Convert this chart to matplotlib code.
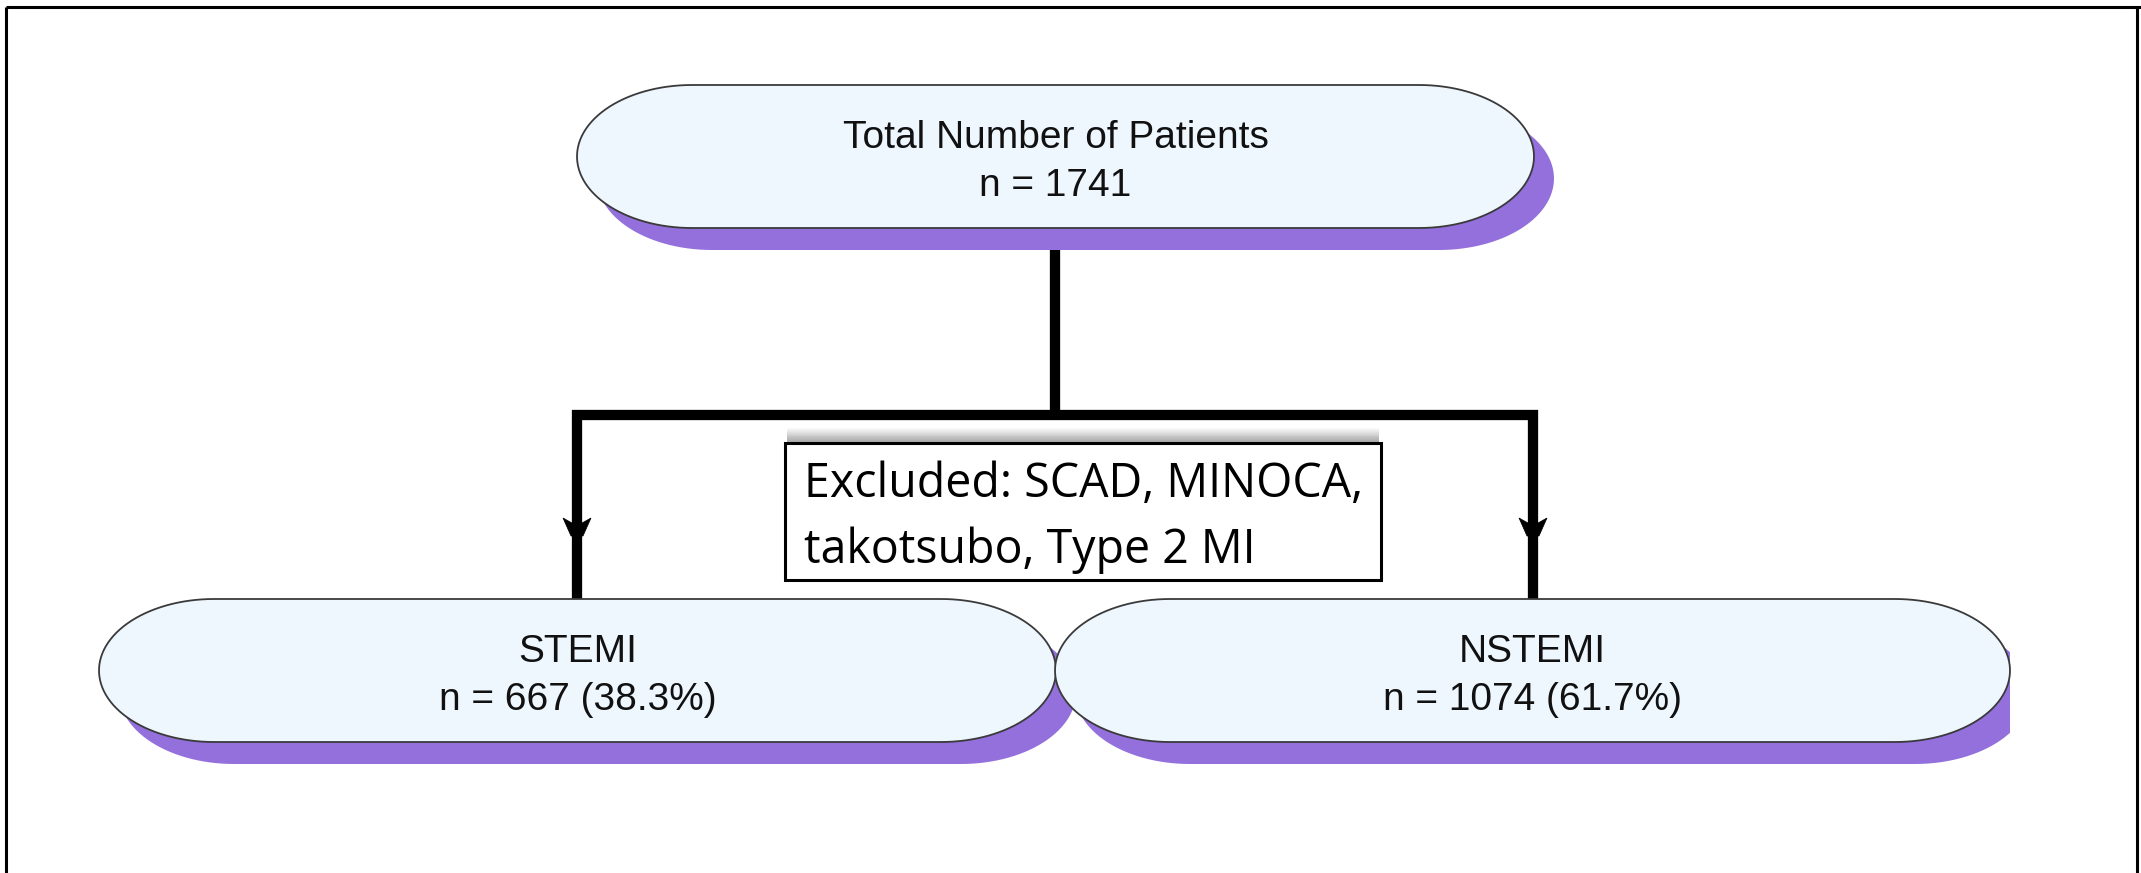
import numpy as np
import matplotlib
matplotlib.use("Agg")
import matplotlib.pyplot as plt
from matplotlib.patches import Polygon, Rectangle

# ---------------- data ----------------
total_label = "Total Number of Patients"
total_n = 1741
groups = ["STEMI", "NSTEMI"]
group_n = [667, 1074]
group_pct = [38.3, 61.7]
excluded_lines = ["Excluded: SCAD, MINOCA,", "takotsubo, Type 2 MI"]

# ---------------- layout (pixel space) ----------------
W, H = 2141, 873
fig = plt.figure(figsize=(W / 100, H / 100), dpi=100)
ax = fig.add_axes([0, 0, 1, 1])
ax.set_xlim(0, W)
ax.set_ylim(H, 0)
ax.axis("off")

FILL = "#EEF6FE"
EDGE = "#3a3a3a"
SHADOW = "#9370DB"
BOX_FONT = ["Liberation Sans", "Arial", "DejaVu Sans"]
EXC_FONT = ["Open Sans", "DejaVu Sans"]


def stadium(x0, x1, y0, y1, rx=115, n=60):
    cy = (y0 + y1) / 2
    ry = (y1 - y0) / 2
    t1 = np.linspace(np.pi / 2, 3 * np.pi / 2, n)
    left = np.column_stack([x0 + rx + rx * np.cos(t1), cy - ry * np.sin(t1)])
    t2 = np.linspace(-np.pi / 2, np.pi / 2, n)
    right = np.column_stack([x1 - rx + rx * np.cos(t2), cy - ry * np.sin(t2)])
    return np.vstack([left, right])


def oval_box(x0, x1, y0, y1, lines, z, clip_right=None, dx=20, dy=22):
    sh = Polygon(stadium(x0 + dx, x1 + dx, y0 + dy, y1 + dy), closed=True,
                 facecolor=SHADOW, edgecolor="none", zorder=z)
    ax.add_patch(sh)
    if clip_right is not None:
        clip = Rectangle((0, 0), clip_right, H, transform=ax.transData)
        sh.set_clip_path(clip)
    box = Polygon(stadium(x0, x1, y0, y1), closed=True, facecolor=FILL,
                  edgecolor=EDGE, linewidth=1.3, zorder=z + 0.5)
    ax.add_patch(box)
    cx = (x0 + x1) / 2
    cy = (y0 + y1) / 2
    ax.text(cx, cy - 9, lines[0], ha="center", va="baseline",
            fontsize=28, family=BOX_FONT, color="#111111", zorder=z + 1)
    ax.text(cx, cy + 40, lines[1], ha="center", va="baseline",
            fontsize=28, family=BOX_FONT, color="#111111", zorder=z + 1)


# outer frame
ax.plot([6, 6], [H, 7], color="black", lw=2.2, solid_capstyle="butt", zorder=1)
ax.plot([6, W], [7, 7], color="black", lw=2.2, solid_capstyle="butt", zorder=1)
ax.plot([W - 4, W - 4], [7, H], color="black", lw=2.2, solid_capstyle="butt", zorder=1)

# connector lines
LW = 7.4
ax.plot([1055, 1055], [225, 415], color="black", lw=LW, solid_capstyle="butt", zorder=2)
ax.plot([577, 577, 1533, 1533], [600, 415, 415, 600], color="black", lw=LW,
        solid_joinstyle="miter", solid_capstyle="butt", zorder=2)

# arrowheads (small barbs)
for cx in (577, 1533):
    ah = Polygon([(cx - 14, 518), (cx - 5, 523), (cx + 5, 523), (cx + 14, 518),
                  (cx + 6, 536), (cx - 6, 536)], closed=True,
                 facecolor="black", edgecolor="black", lw=0.5, zorder=2.2)
    ax.add_patch(ah)

# top box
oval_box(577, 1534, 85, 228, [total_label, f"n = {total_n}"], z=3)

# bottom boxes
oval_box(99, 1056, 599, 742,
         [groups[0], f"n = {group_n[0]} ({group_pct[0]}%)"], z=4)
oval_box(1055, 2010, 599, 742,
         [groups[1], f"n = {group_n[1]} ({group_pct[1]}%)"], z=5, clip_right=2010)

# excluded box with soft shadow on top
ex0, ex1, ey0, ey1 = 785, 1381, 443, 580
nsteps = 16
for i in range(nsteps):
    h = 15 * (1 - i / nsteps)
    ax.add_patch(Rectangle((ex0 + 2, ey0 - h), ex1 - ex0 - 4, h,
                           facecolor="#000000", alpha=0.022, edgecolor="none",
                           zorder=6))
ax.add_patch(Rectangle((ex0, ey0), ex1 - ex0, ey1 - ey0, facecolor="white",
                       edgecolor="black", linewidth=2.2, zorder=6.5))
ax.text(804, 497, excluded_lines[0], ha="left", va="baseline", fontsize=33.5,
        family=EXC_FONT, color="black", zorder=7)
ax.text(804, 563, excluded_lines[1], ha="left", va="baseline", fontsize=33.5,
        family=EXC_FONT, color="black", zorder=7)

fig.savefig("out.png", dpi=100, facecolor="white")
